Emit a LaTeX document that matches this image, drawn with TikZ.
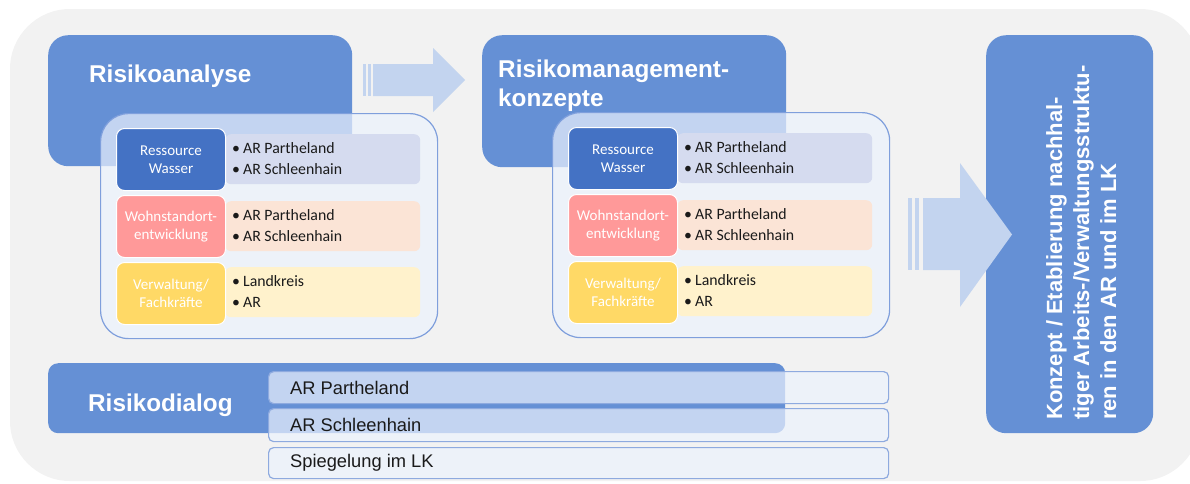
\documentclass[tikz,border=0pt]{standalone}
\usepackage{fontspec}
\setmainfont{Liberation Sans}
\newfontfamily\calfont{Carlito}
\definecolor{bggray}{HTML}{F2F2F2}
\definecolor{mainblue}{HTML}{6590D5}
\definecolor{lbl1}{HTML}{4472C4}
\definecolor{lbl2}{HTML}{FF9999}
\definecolor{lbl3}{HTML}{FFD966}
\definecolor{rbg1}{HTML}{D5DBEF}
\definecolor{rbg2}{HTML}{FBE4D6}
\definecolor{rbg3}{HTML}{FFF2CC}
\definecolor{arrowblue}{HTML}{C3D4EF}
\definecolor{contfill}{HTML}{ECF2FD}
\definecolor{contborder}{HTML}{7F9FDC}
\definecolor{rowborder}{HTML}{8EAADF}
\definecolor{darktext}{HTML}{1A1A1A}
\newcommand\riskgroup[1]{%
  \node[container, minimum width=337pt, minimum height=225pt] (#1box) at (0,0) {};
  \node[rowbg, fill=rbg1] (#1bg1) at (125,21) {};
  \node[rowbg, fill=rbg2] (#1bg2) at (125,88) {};
  \node[rowbg, fill=rbg3] (#1bg3) at (125,154) {};
  \node[lblbox, fill=lbl1] (#1l1) at (16,15) {};
  \node[lblbox, fill=lbl2] (#1l2) at (16,82) {};
  \node[lblbox, fill=lbl3] (#1l3) at (16,149) {};
  \node[lbltext] (#1t1) at (#1l1.center) {Ressource\\Wasser};
  \node[lbltext] (#1t2) at (#1l2.center) {Wohnstandort-\\entwicklung};
  \node[lbltext] (#1t3) at (#1l3.center) {Verwaltung/\\Fachkräfte};
  \node[bultext] (#1b1) at (132,46) {\bul AR Partheland\\\bul AR Schleenhain};
  \node[bultext] (#1b2) at (132,113) {\bul AR Partheland\\\bul AR Schleenhain};
  \node[bultext] (#1b3) at (132,179) {\bul Landkreis\\\bul AR};
}
\newcommand\bul{\makebox[11pt][l]{\textbullet}}
\begin{document}
\begin{tikzpicture}[x=1pt,y=-1pt,
  bluebox/.style={fill=mainblue, rounded corners=20pt, anchor=north west, inner sep=0pt},
  container/.style={draw=contborder, line width=1.2pt, fill=contfill, fill opacity=0.7, rounded corners=28pt, anchor=north west, inner sep=0pt},
  rowbg/.style={rounded corners=6pt, anchor=north west, minimum width=195pt, minimum height=50pt, inner sep=0pt},
  lblbox/.style={draw=white, line width=1pt, rounded corners=8pt, anchor=north west, minimum width=109pt, minimum height=62pt, inner sep=0pt},
  lbltext/.style={text=white, align=center, font=\calfont\fontsize{15}{17.5}\selectfont, inner sep=0pt},
  bultext/.style={text=darktext, align=left, anchor=west, font=\calfont\fontsize{15.8}{21}\selectfont, inner sep=0pt},
  titletext/.style={text=white, font=\bfseries\fontsize{24.3}{29}\selectfont, inner sep=0pt, anchor=base west},
  dlgrow/.style={draw=rowborder, line width=1.2pt, fill=contfill, fill opacity=0.7, rounded corners=5pt, anchor=north west, minimum width=620pt, inner sep=0pt},
  dlgtext/.style={text=darktext, font=\fontsize{18.3}{21}\selectfont, inner sep=0pt, anchor=west},
  arrowfill/.style={fill=arrowblue}
]
\useasboundingbox (0,0) rectangle (1190,483);
% background
\fill[bggray, rounded corners=60pt] (10,9) rectangle (1200,481);

% Risikoanalyse
\node[bluebox, minimum width=304pt, minimum height=131pt] (ra) at (48,35) {};
\node[titletext] (rat) at (89,82) {Risikoanalyse};

% small arrow
\fill[arrowfill] (363,64) rectangle (365.5,96);
\fill[arrowfill] (368,64) rectangle (370.5,96);
\fill[arrowfill] (373,64) -- (433,64) -- (433,48) -- (465,80) -- (433,112) -- (433,96) -- (373,96) -- cycle;

% Risikomanagementkonzepte
\node[bluebox, minimum width=304pt, minimum height=132pt] (rm) at (482,35) {};
\node[titletext] (rmt1) at (498,77) {Risikomanagement-};
\node[titletext] (rmt2) at (498,106) {konzepte};

% groups
\begin{scope}[shift={(100,113)}]
  \riskgroup{a}
\end{scope}
\begin{scope}[shift={(552,112)}]
  \riskgroup{m}
\end{scope}

% right box
\node[bluebox, minimum width=167pt, minimum height=398pt] (kz) at (986,35) {};
\node[text=white, font=\bfseries\fontsize{22}{27}\selectfont, align=left, rotate=90, anchor=north west, inner sep=0pt] (kzt) at (1046,420)
  {Konzept / Etablierung nachhal-\\tiger Arbeits-/Verwaltungsstruktu-\\ren in den AR und im LK};

% big arrow
\fill[arrowfill] (908,198) rectangle (912,270);
\fill[arrowfill] (915,198) rectangle (919,270);
\fill[arrowfill] (923,198) -- (960,198) -- (960,163) -- (1012,234.5) -- (960,307) -- (960,270) -- (923,270) -- cycle;

% Risikodialog
\node[fill=mainblue, rounded corners=10pt, anchor=north west, inner sep=0pt, minimum width=737pt, minimum height=70pt] (rd) at (48,363) {};
\node[titletext] (rdt) at (88,411.5) {Risikodialog};
\node[dlgrow, minimum height=32pt] (d1) at (268,371) {};
\node[dlgrow, minimum height=33pt] (d2) at (268,408) {};
\node[dlgrow, minimum height=31pt] (d3) at (268,447) {};
\node[dlgtext] (d1t) at ([xshift=22pt]d1.west) {AR Partheland};
\node[dlgtext] (d2t) at ([xshift=22pt]d2.west) {AR Schleenhain};
\node[dlgtext] (d3t) at ([xshift=22pt]d3.west) {Spiegelung im LK};
\end{tikzpicture}
\end{document}
